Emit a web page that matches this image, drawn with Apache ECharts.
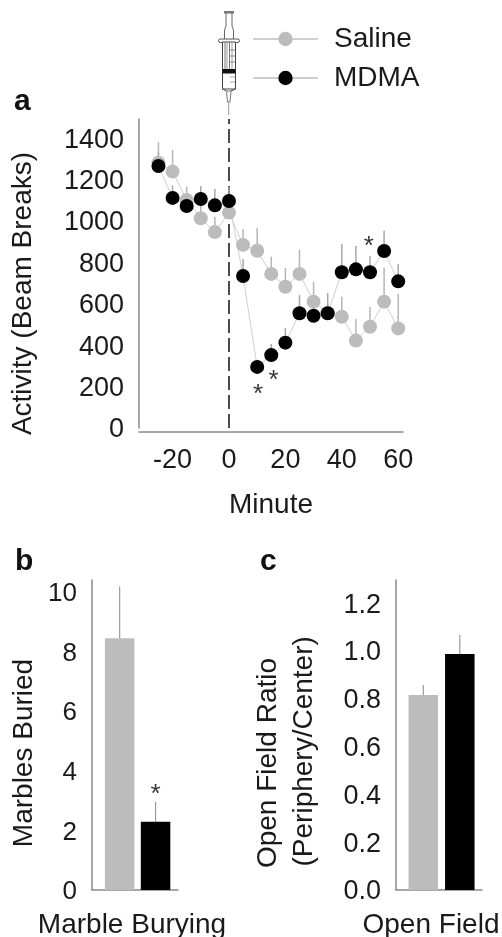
<!DOCTYPE html>
<html>
<head>
<meta charset="utf-8">
<style>html,body{margin:0;padding:0;background:#fff}#c{width:502px;height:937px}</style>
<script src="https://cdn.jsdelivr.net/npm/echarts@6/dist/echarts.min.js"></script>
</head>
<body>
<div id="c"></div>
<script>
const minutes = [-25,-20,-15,-10,-5,0,5,10,15,20,25,30,35,40,45,50,55,60];
const salineMean = [1281,1238,1101,1013,946,1040,884,856,744,682,744,610,555,537,422,489,610,481];
const salineUpper = [1381,1342,1165,1086,1020,1110,961,966,827,773,859,706,600,634,526,584,774,647];
const mdmaMean = [1265,1111,1072,1106,1075,1096,734,295,352,412,554,542,554,752,766,752,855,708];
const mdmaUpper = [1330,1170,1125,1168,1154,1164,816,330,406,483,642,618,652,888,879,832,953,792];
const yTicksA = [0,200,400,600,800,1000,1200,1400];
const xTicksA = [-20,0,20,40,60];
const starsA = [[10.3,160],[15.8,228],[49.6,876]];

const groupX = [1,2];
const marbleMean = [8.45,2.29];
const marbleUpper = [10.18,2.96];
const yTicksB = [0,2,4,6,8,10];
const starsB = [[2,3.2]];

const fieldMean = [0.816,0.987];
const fieldUpper = [0.858,1.067];
const yTicksC = [0,0.2,0.4,0.6,0.8,1.0,1.2];

const GRAY = '#bcbcbc', BLACK = '#000', AXIS = '#8a8a8a', TXT = '#1a1a1a', FONT = '"Liberation Sans", Arial, sans-serif';

function errSeries(name, xs, ys, xi, yi, color, w) {
  return {
    type: 'custom', name, xAxisIndex: xi, yAxisIndex: yi, silent: true, clip: false,
    data: xs.map((x, i) => [x, ys[i][0], ys[i][1]]),
    renderItem(p, api) {
      const a = api.coord([api.value(0), api.value(1)]);
      const b = api.coord([api.value(0), api.value(2)]);
      return { type: 'line', shape: { x1: a[0], y1: a[1], x2: b[0], y2: b[1] }, style: { stroke: color, lineWidth: w } };
    }
  };
}
const zip = (a, b) => a.map((v, i) => [v, b[i]]);

function starSeries(data, xi, yi) {
  return {
    type: 'scatter', xAxisIndex: xi, yAxisIndex: yi, data, symbolSize: 1, silent: true,
    itemStyle: { color: 'transparent' },
    label: { show: true, position: 'inside', formatter: '*', fontFamily: FONT, fontSize: 26, color: '#000' }
  };
}
function barSeries(means, xi, yi) {
  return {
    type: 'bar', xAxisIndex: xi, yAxisIndex: yi, barWidth: 29.5,
    data: groupX.map((x, i) => ({ value: [x, means[i]], itemStyle: { color: i ? BLACK : GRAY } }))
  };
}
const axisLine = { show: true, onZero: false, lineStyle: { color: AXIS, width: 1.5 } };
const lbl = (extra) => Object.assign({ fontFamily: FONT, fontSize: 27, color: TXT }, extra);

function yAxisFor(gridIndex, max, ticks, name, nameGap, shift, fmt, size) {
  return {
    type: 'value', gridIndex, min: 0, max, splitLine: { show: false },
    axisLine, axisTick: { show: false },
    axisLabel: lbl({ margin: 15, customValues: ticks, formatter: fmt, fontSize: size, verticalAlign: 'top', lineHeight: 4 }),
    name, nameLocation: 'middle', nameGap, nameRotate: 90,
    nameTextStyle: lbl({ fontSize: 28, padding: [0, shift, 0, 0], lineHeight: 36 })
  };
}
function xAxisBar(gridIndex, min, max, name, shift) {
  return {
    type: 'value', gridIndex, min, max, splitLine: { show: false },
    axisLine, axisTick: { show: false }, axisLabel: { show: false },
    name, nameLocation: 'middle', nameGap: 21,
    nameTextStyle: lbl({ fontSize: 28, padding: [0, shift, 0, 0] })
  };
}

const option = {
  animation: false,
  backgroundColor: '#fff',
  textStyle: { fontFamily: FONT },
  legend: {
    data: ['Saline', 'MDMA'], orient: 'vertical', left: 252, top: 25, padding: 0,
    itemWidth: 65, itemHeight: 18, itemGap: 11, selectedMode: false,
    textStyle: lbl({ fontSize: 28, padding: [0, 0, 0, 11] })
  },
  grid: [
    { left: 139, top: 119, width: 264, height: 309, outerBoundsMode: 'none' },
    { left: 92, top: 580, width: 86, height: 310, outerBoundsMode: 'none' },
    { left: 396, top: 580, width: 86, height: 310, outerBoundsMode: 'none' }
  ],
  xAxis: [
    {
      type: 'value', gridIndex: 0, min: -31.9, max: 61.7, offset: 4, splitLine: { show: false },
      axisLine, axisTick: { show: false },
      axisLabel: lbl({ margin: 15, customValues: xTicksA, formatter: v => String(v) }),
      name: 'Minute', nameLocation: 'middle', nameGap: 59, nameTextStyle: lbl({ fontSize: 28 })
    },
    xAxisBar(1, 0.23, 2.625, 'Marble Burying', 6),
    xAxisBar(2, 0.252, 2.608, 'Open Field', 16)
  ],
  yAxis: [
    yAxisFor(0, 1492, yTicksA, 'Activity (Beam Breaks)', 98, 40, v => String(v), 27),
    yAxisFor(1, 10.4, yTicksB, 'Marbles Buried', 50, 36, v => String(v), 26),
    yAxisFor(2, 1.297, yTicksC, 'Open Field Ratio\n\u00a0\u00a0\u00a0(Periphery/Center)', 74, 56, v => v.toFixed(1), 27)
  ],
  series: [
    errSeries('salineErr', minutes, zip(salineMean, salineUpper), 0, 0, '#b5b5b5', 1.5),
    {
      type: 'line', name: 'Saline', xAxisIndex: 0, yAxisIndex: 0, data: zip(minutes, salineMean),
      symbol: 'circle', symbolSize: 14, itemStyle: { color: GRAY }, lineStyle: { color: '#cfcfcf', width: 1 },
      markLine: {
        silent: true, symbol: 'none', z: 1, label: { show: false },
        lineStyle: { color: '#111', width: 1.5, type: [14, 5] }, data: [{ xAxis: 0 }]
      }
    },
    errSeries('mdmaErr', minutes, zip(mdmaMean, mdmaUpper), 0, 0, '#a8a8a8', 1.5),
    {
      type: 'line', name: 'MDMA', xAxisIndex: 0, yAxisIndex: 0, data: zip(minutes, mdmaMean),
      symbol: 'circle', symbolSize: 14, itemStyle: { color: BLACK }, lineStyle: { color: '#cfcfcf', width: 1 }
    },
    starSeries(starsA, 0, 0),
    barSeries(marbleMean, 1, 1),
    errSeries('marbleErr', groupX, zip(marbleMean, marbleUpper), 1, 1, '#9a9a9a', 1.2),
    starSeries(starsB, 1, 1),
    barSeries(fieldMean, 2, 2),
    errSeries('fieldErr', groupX, zip(fieldMean, fieldUpper), 2, 2, '#9a9a9a', 1.2)
  ],
  graphic: [
    { type: 'text', left: 14, top: 87, style: { text: 'a', font: 'bold 30px ' + FONT, fill: '#111' } },
    { type: 'text', left: 15, top: 547, style: { text: 'b', font: 'bold 30px ' + FONT, fill: '#111' } },
    { type: 'text', left: 260, top: 547, style: { text: 'c', font: 'bold 30px ' + FONT, fill: '#111' } },
    // syringe icon (decorative)
    { type: 'group', silent: true, children: [
      { type: 'rect', shape: { x: 224, y: 11, width: 10, height: 2.5 }, style: { fill: '#777' } },
      { type: 'polyline', shape: { points: [[226,13],[226,26],[224.5,30],[224.5,39]] }, style: { stroke: '#666', lineWidth: 1, fill: 'none' } },
      { type: 'polyline', shape: { points: [[232,13],[232,26],[233.5,30],[233.5,39]] }, style: { stroke: '#666', lineWidth: 1, fill: 'none' } },
      { type: 'rect', shape: { x: 218.5, y: 39, width: 21, height: 3.5, r: 1.7 }, style: { fill: '#fff', stroke: '#555', lineWidth: 1 } },
      { type: 'rect', shape: { x: 222.5, y: 42, width: 13, height: 47 }, style: { fill: '#fff', stroke: '#444', lineWidth: 1 } },
      { type: 'line', shape: { x1: 225, y1: 42, x2: 225, y2: 69 }, style: { stroke: '#777', lineWidth: 1 } },
      { type: 'line', shape: { x1: 227, y1: 42, x2: 227, y2: 69 }, style: { stroke: '#999', lineWidth: 1 } },
      { type: 'line', shape: { x1: 229.5, y1: 42, x2: 229.5, y2: 69 }, style: { stroke: '#777', lineWidth: 1 } },
      { type: 'line', shape: { x1: 232, y1: 42, x2: 232, y2: 69 }, style: { stroke: '#999', lineWidth: 1 } },
      { type: 'line', shape: { x1: 230, y1: 50, x2: 235, y2: 50 }, style: { stroke: '#888', lineWidth: 1 } },
      { type: 'line', shape: { x1: 230, y1: 56, x2: 235, y2: 56 }, style: { stroke: '#888', lineWidth: 1 } },
      { type: 'line', shape: { x1: 230, y1: 62, x2: 235, y2: 62 }, style: { stroke: '#888', lineWidth: 1 } },
      { type: 'rect', shape: { x: 222.5, y: 69, width: 13, height: 4.5 }, style: { fill: '#111' } },
      { type: 'line', shape: { x1: 230, y1: 77, x2: 235, y2: 77 }, style: { stroke: '#aaa', lineWidth: 1 } },
      { type: 'line', shape: { x1: 230, y1: 82, x2: 235, y2: 82 }, style: { stroke: '#aaa', lineWidth: 1 } },
      { type: 'polygon', shape: { points: [[226.5,91],[231,91],[230,102],[227.5,102]] }, style: { fill: '#fff', stroke: '#777', lineWidth: 1 } },
      { type: 'polyline', shape: { points: [[222.5,89],[226.5,91]] }, style: { stroke: '#444', lineWidth: 1 } },
      { type: 'polyline', shape: { points: [[235.5,89],[231,91]] }, style: { stroke: '#444', lineWidth: 1 } },
      { type: 'line', shape: { x1: 228.7, y1: 102, x2: 228.7, y2: 115 }, style: { stroke: '#999', lineWidth: 1 } }
    ] }
  ]
};
echarts.init(document.getElementById('c'), null, { renderer: 'canvas' }).setOption(option);
</script>
</body>
</html>
